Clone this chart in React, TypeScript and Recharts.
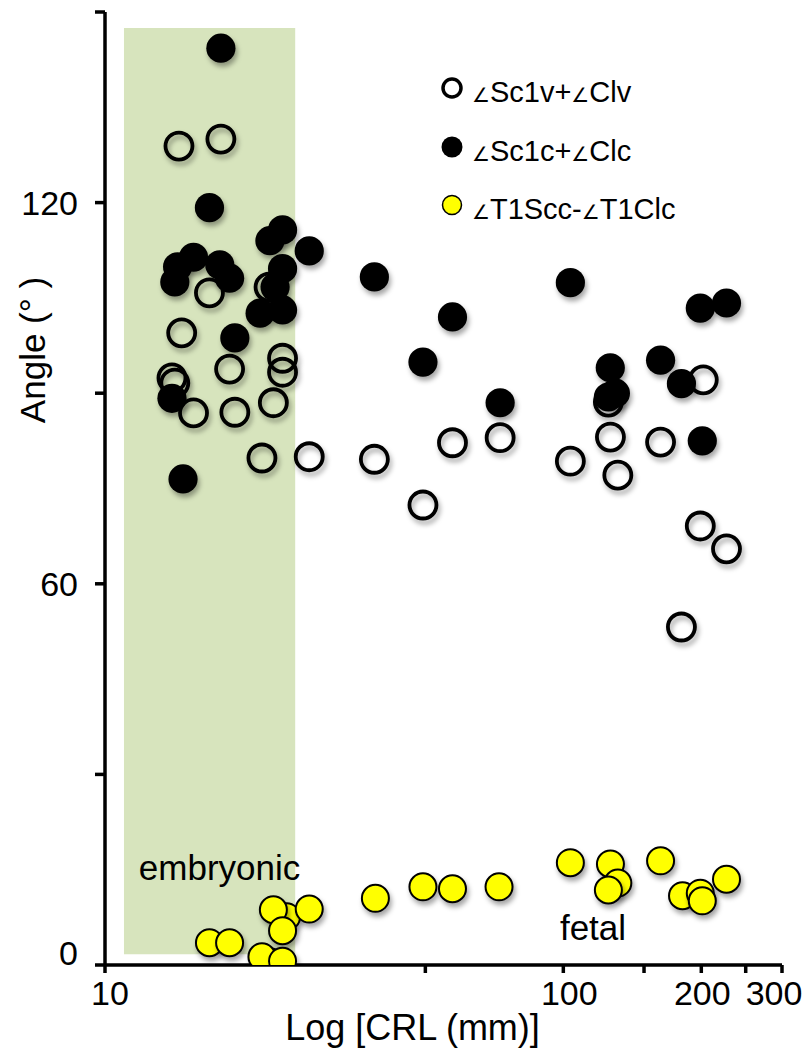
import { Legend, ReferenceArea, Scatter, ScatterChart, XAxis, YAxis } from "recharts";

const FONT = '"Liberation Sans", Arial, Helvetica, sans-serif';

// ∠Sc1v+∠Clv (open circles)
const openCrl = [14.5, 17.9, 16.9, 14.7, 22.8, 18.7, 24.4, 24.4, 14.0, 14.2, 15.6, 19.2, 23.3, 22.0, 27.9, 38.7, 57.3, 49.4, 72.8, 103.6, 126.7, 131.5, 125.4, 163, 202, 199, 227, 181];
const openAngle = [128.9, 130.0, 105.8, 99.5, 106.7, 93.8, 95.5, 93.3, 92.4, 91.6, 86.9, 87.0, 88.5, 79.8, 80.0, 79.6, 82.2, 72.4, 83.0, 79.3, 83.1, 77.1, 88.6, 82.3, 92.1, 69.1, 65.5, 53.2];

// ∠Sc1c+∠Clc (filled black)
const blackCrl = [17.9, 16.9, 24.4, 22.9, 27.9, 38.7, 15.6, 14.4, 14.2, 17.8, 18.7, 24.4, 21.8, 24.4, 23.5, 19.2, 14.0, 14.8, 57.3, 103.6, 199, 227, 49.4, 72.8, 126.6, 129.9, 125.4, 163, 181, 201];
const blackAngle = [144.3, 119.2, 115.7, 114.0, 112.4, 108.3, 111.4, 109.9, 107.5, 110.2, 108.1, 109.6, 102.6, 103.1, 106.7, 98.7, 89.2, 76.5, 102.0, 107.4, 103.4, 104.2, 94.9, 88.5, 94.0, 90.0, 89.4, 95.2, 91.5, 82.5];

// ∠T1Scc-∠T1Clc (yellow)
const yellowCrl = [22.9, 24.9, 16.9, 18.7, 23.3, 24.4, 27.9, 22.0, 24.4, 38.9, 49.4, 57.3, 72.4, 103.6, 126.7, 131.5, 125.4, 163, 182, 199, 201, 227];
const yellowAngle = [0.5, 7.6, 3.5, 3.5, 8.7, 5.4, 8.8, 1.3, 0.6, 10.5, 12.3, 12.0, 12.3, 16.1, 15.9, 12.9, 11.8, 16.4, 10.9, 11.3, 10.1, 13.5];

const seriesNames = ["∠Sc1v+∠Clv", "∠Sc1c+∠Clc", "∠T1Scc-∠T1Clc"];
const seriesKinds = ["open", "black", "yellow"];

const xTicks = [10, 50, 100, 150, 200, 250, 300];
const xTickLabels = ["10", "", "100", "", "200", "", "300"];
const yTicks = [0, 30, 60, 90, 120, 150];
const yTickLabels = ["0", "", "60", "", "120", ""];

// embryonic period shading (CRL range and angle range)
const embryonicCrl = [11.0, 26.0];
const embryonicAngle = [1.7, 147.5];

const toPoints = (xs: number[], ys: number[]) => xs.map((crl, i) => ({ crl, angle: ys[i] }));
const openData = toPoints(openCrl, openAngle);
const blackData = toPoints(blackCrl, blackAngle);
const yellowData = toPoints(yellowCrl, yellowAngle);

function OpenDot(props: any) {
  const { cx, cy } = props;
  if (cx == null || cy == null) return null;
  return <circle cx={cx} cy={cy} r={13.5} fill="none" stroke="#000" strokeWidth={3.8} filter="url(#dotShadow)" />;
}

function BlackDot(props: any) {
  const { cx, cy } = props;
  if (cx == null || cy == null) return null;
  return <circle cx={cx} cy={cy} r={14.6} fill="#000" filter="url(#dotShadow)" />;
}

function YellowDot(props: any) {
  const { cx, cy } = props;
  if (cx == null || cy == null) return null;
  return <circle cx={cx} cy={cy} r={13.5} fill="#ffff00" stroke="#000" strokeWidth={2} filter="url(#dotShadow)" />;
}

function LegendMarker({ kind }: { kind: string }) {
  if (kind === "open") return <circle cx={15} cy={15} r={9} fill="#fff" stroke="#000" strokeWidth={3.5} />;
  if (kind === "black") return <circle cx={15} cy={15} r={10.5} fill="#000" />;
  return <circle cx={15} cy={15} r={9.5} fill="#ffff00" stroke="#000" strokeWidth={1.5} />;
}

function LegendLabel({ text }: { text: string }) {
  const parts = text.split("∠");
  return (
    <span>
      {parts.map((p, i) => (
        <span key={i}>
          {i > 0 && <span style={{ fontSize: 20, fontFamily: '"DejaVu Sans", sans-serif' }}>∠</span>}
          {p}
        </span>
      ))}
    </span>
  );
}

function renderLegend() {
  return (
    <div style={{ fontFamily: FONT, color: "#000" }}>
      {seriesNames.map((name, i) => (
        <div key={name} style={{ display: "flex", alignItems: "center", height: 58.5 }}>
          <svg width={30} height={30}>
            <LegendMarker kind={seriesKinds[i]} />
          </svg>
          <span style={{ fontSize: 29, marginLeft: 5, paddingTop: 9, whiteSpace: "nowrap" }}>
            <LegendLabel text={name} />
          </span>
        </div>
      ))}
    </div>
  );
}

const xNudge = [5, 0, 6, 0, 1, 0, -8];

function XTick(props: any) {
  const { x, y, payload } = props;
  const i = xTicks.indexOf(payload.value);
  const label = xTickLabels[i] ?? "";
  if (!label) return null;
  return (
    <text x={x + (xNudge[i] ?? 0)} y={y} dy="0.71em" textAnchor="middle" fontSize={34} fontFamily={FONT} fill="#000">
      {label}
    </text>
  );
}

function YTick(props: any) {
  const { x, y, payload } = props;
  const i = yTicks.indexOf(payload.value);
  const label = yTickLabels[i] ?? "";
  if (!label) return null;
  return (
    <text x={x} y={payload.value === 0 ? y - 12 : y} dy="0.355em" textAnchor="end" fontSize={34} fontFamily={FONT} fill="#000">
      {label}
    </text>
  );
}

export default function App() {
  return (
    <div style={{ position: "absolute", left: 0, top: 0, width: 809, height: 1049, background: "#fff" }}>
      <svg width={0} height={0} style={{ position: "absolute" }}>
        <defs>
          <filter id="dotShadow" x="-60%" y="-60%" width="220%" height="220%">
            <feDropShadow dx={2} dy={4} stdDeviation={2.5} floodColor="#000" floodOpacity={0.35} />
          </filter>
        </defs>
      </svg>
      <ScatterChart width={809} height={1049} margin={{ top: 12, right: 27, bottom: 0, left: 0 }}>
        <ReferenceArea
          x1={embryonicCrl[0]}
          x2={embryonicCrl[1]}
          y1={embryonicAngle[0]}
          y2={embryonicAngle[1]}
          fill="#d7e4bd"
          fillOpacity={1}
          stroke="none"
          label={{
            content: (p: any) => {
              const vb = p.viewBox || {};
              return (
                <text x={vb.x + vb.width / 2 + 10} y={vb.y + vb.height - 74} textAnchor="middle" fontSize={35} fontFamily={FONT} fill="#000">
                  embryonic
                </text>
              );
            },
          }}
        />
        <XAxis
          type="number"
          dataKey="crl"
          scale="log"
          domain={[10, 300]}
          ticks={xTicks}
          allowDataOverflow
          height={84}
          tickSize={8}
          tickMargin={8}
          axisLine={{ stroke: "#000", strokeWidth: 3.5 }}
          tickLine={{ stroke: "#000", strokeWidth: 3.5 }}
          tick={<XTick />}
          label={{
            content: (p: any) => {
              const vb = p.viewBox || {};
              return (
                <text x={vb.x + vb.width / 2 - 31} y={1040} textAnchor="middle" fontSize={36} fontFamily={FONT} fill="#000">
                  Log [CRL (mm)]
                </text>
              );
            },
          }}
        />
        <YAxis
          type="number"
          dataKey="angle"
          domain={[0, 150]}
          ticks={yTicks}
          allowDataOverflow
          width={105}
          tickSize={10}
          tickMargin={17}
          axisLine={{ stroke: "#000", strokeWidth: 3.5 }}
          tickLine={{ stroke: "#000", strokeWidth: 3.5 }}
          tick={<YTick />}
          label={{
            content: () => (
              <text x={45} y={350} transform="rotate(-90, 45, 350)" textAnchor="middle" fontSize={35} fontFamily={FONT} fill="#000">
                {"Angle (°  )"}
              </text>
            ),
          }}
        />
        <Legend
          layout="vertical"
          verticalAlign="middle"
          align="center"
          content={renderLegend}
          wrapperStyle={{ position: "absolute", left: 437, top: 59, width: 330 }}
        />
        <Scatter name={seriesNames[0]} data={openData} shape={(p: any) => <OpenDot {...p} />} isAnimationActive={false} />
        <Scatter name={seriesNames[1]} data={blackData} shape={(p: any) => <BlackDot {...p} />} isAnimationActive={false} />
        <Scatter name={seriesNames[2]} data={yellowData} shape={(p: any) => <YellowDot {...p} />} isAnimationActive={false} />
        <text x={593} y={940} textAnchor="middle" fontSize={35} fontFamily={FONT} fill="#000">
          fetal
        </text>
      </ScatterChart>
    </div>
  );
}
